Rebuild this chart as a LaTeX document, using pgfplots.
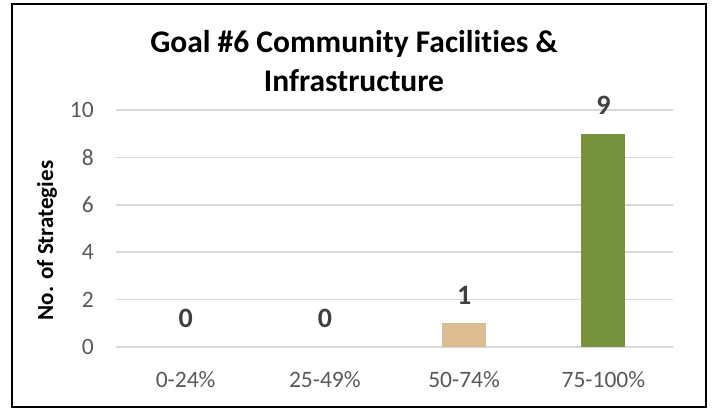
\documentclass[border=0pt]{standalone}
\usepackage{pgfplots}
\pgfplotsset{compat=1.18}
\usepackage{fontspec}
\setmainfont{Carlito}[Ligatures=NoCommon]
\definecolor{tanbar}{HTML}{DEBC92}
\definecolor{greenbar}{HTML}{76923C}
\definecolor{gridgray}{HTML}{D9D9D9}
\definecolor{ticktext}{HTML}{595959}
\definecolor{labeltext}{HTML}{404040}
\begin{document}
\begin{tikzpicture}
\path[use as bounding box] (-116bp,-61bp) rectangle (596bp,347bp);
\begin{axis}[
  at={(0,0)}, anchor=south west,
  scale only axis, width=557bp, height=237bp,
  xmin=-0.5, xmax=3.5, ymin=0, ymax=10,
  ytick={0,2,...,10},
  xtick={0,1,2,3},
  xticklabels={0-24\%,25-49\%,50-74\%,75-100\%},
  axis line style={draw=none},
  major tick length=0pt,
  ymajorgrids,
  grid style={gridgray, line width=1.5bp},
  /pgf/number format/assume math mode=true,
  ticklabel style={font=\fontsize{23.5bp}{28bp}\selectfont, text=ticktext},
  xticklabel style={anchor=base, yshift=-40bp},
  yticklabel style={anchor=east, inner sep=0pt, xshift=-22bp},
  ylabel={No. of Strategies},
  ylabel style={at={(axis description cs:-0.1239,0.449)}, anchor=center,
    font=\bfseries\fontsize{23bp}{27bp}\selectfont},
  ybar, bar width=44bp, bar shift=0pt,
  nodes near coords,
  every node near coord/.style={anchor=south, inner sep=0pt, yshift=19bp,
    font=\bfseries\fontsize{28bp}{32bp}\selectfont, text=labeltext},
]
\addplot[draw=none, fill=none] coordinates {(0,0) (1,0)};
\addplot[draw=none, fill=tanbar] coordinates {(2,1)};
\addplot[draw=none, fill=greenbar] coordinates {(3,9)};
\end{axis}
\node[anchor=base, font=\bfseries\fontsize{31.5bp}{36bp}\selectfont] at (238bp,294bp) {Goal \#6 Community Facilities \&};
\node[anchor=base, font=\bfseries\fontsize{31.5bp}{36bp}\selectfont] at (238bp,255bp) {Infrastructure};
\draw[line width=1.5bp] (-104bp,-60bp) rectangle (590bp,343bp);
\end{tikzpicture}
\end{document}
